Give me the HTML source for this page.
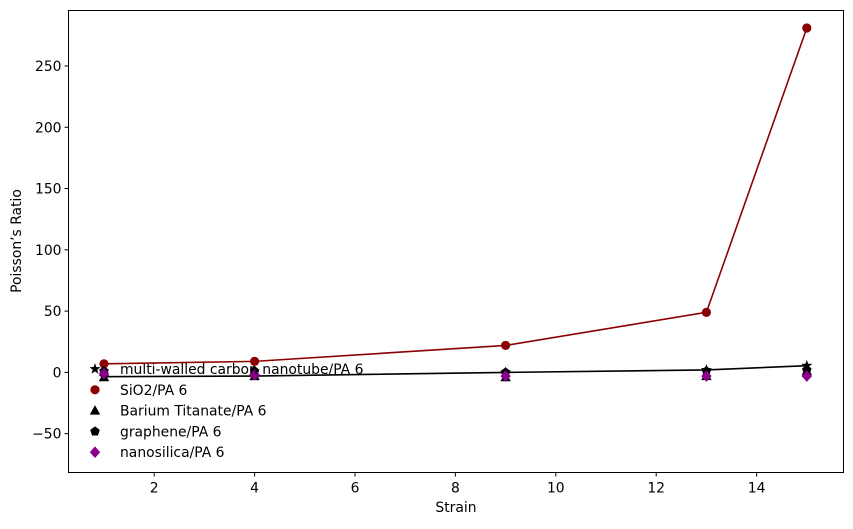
<!DOCTYPE html>
<html><head><meta charset="utf-8"><style>
body{margin:0;background:#fff;width:853px;height:525px;overflow:hidden;font-family:"DejaVu Sans","Liberation Sans",sans-serif}
text{font-family:"DejaVu Sans","Liberation Sans",sans-serif;font-size:13.9px;fill:#000}
</style></head><body>
<svg id="chart" width="853" height="525"></svg>
<script>
const strains=[1,4,9,13,15];
const mwcnt=[-3.5,-3,0,2,5.5];
const sio2=[7,9,22,49,281];
const barium=[-4,-3,-4,-3,1];
const graphene=[1,1,0,1,2];
const nanosilica=[-1,-2,-3,-3,-3];
const xTicks=[2,4,6,8,10,12,14];
const yTicks=[-50,0,50,100,150,200,250];
const legendLabels=["multi-walled carbon nanotube/PA 6","SiO2/PA 6","Barium Titanate/PA 6","graphene/PA 6","nanosilica/PA 6"];

const NS="http://www.w3.org/2000/svg";
const svg=document.getElementById('chart');
const L=68.5,R=843.5,T=10.5,B=472.5;
const xs=v=>104+(v-1)*50.2;
const ys=v=>372.4-v*1.2257;
function mk(tag,attrs,parent){const e=document.createElementNS(NS,tag);for(const k in attrs)e.setAttribute(k,attrs[k]);(parent||svg).appendChild(e);return e;}

const frame=mk('rect',{x:L,y:T,width:R-L,height:B-T,fill:'none',stroke:'#000','stroke-width':1});



xTicks.forEach(t=>{
  const g=mk('g',{});
  
  
  mk('line',{x1:xs(t),x2:xs(t),y1:B,y2:B+4,stroke:'#000'},g);
  const tx=mk('text',{x:xs(t),y:B+20,'text-anchor':'middle'},g);tx.textContent=t;
});
yTicks.forEach(t=>{
  const g=mk('g',{});
  
  
  mk('line',{x1:L-4,x2:L,y1:ys(t),y2:ys(t),stroke:'#000'},g);
  const tx=mk('text',{x:L-7,y:ys(t)+5,'text-anchor':'end'},g);tx.textContent=t===-50?'\u221250':t;
});
const xl=mk('text',{x:456,y:512,'text-anchor':'middle'});xl.textContent='Strain';


const yl=mk('text',{x:21,y:241,'text-anchor':'middle',transform:'rotate(-90 21 241)'});yl.textContent='Poisson\u2019s Ratio';



function line(vals,color,name){
  const p=mk('polyline',{points:strains.map((s,i)=>xs(s)+','+ys(vals[i])).join(' '),fill:'none',stroke:color,'stroke-width':1.6});
  
  
}
function marker(type,x,y,color,parent){
  if(type==='circle')return mk('circle',{cx:x,cy:y,r:4.6,fill:color},parent);
  if(type==='tri')return mk('polygon',{points:`${x},${y-5.5} ${x-5.2},${y+4} ${x+5.2},${y+4}`,fill:color},parent);
  if(type==='diamond')return mk('polygon',{points:`${x},${y-5.8} ${x+5.2},${y} ${x},${y+5.8} ${x-5.2},${y}`,fill:color},parent);
  if(type==='pent'){let pts=[];for(let k=0;k<5;k++){const a=-Math.PI/2+k*2*Math.PI/5;pts.push((x+5*Math.cos(a))+','+(y+5*Math.sin(a)));}return mk('polygon',{points:pts.join(' '),fill:color},parent);}
  if(type==='star'){let pts=[];for(let k=0;k<10;k++){const a=-Math.PI/2+k*Math.PI/5;const r=k%2?2.4:5.8;pts.push((x+r*Math.cos(a))+','+(y+r*Math.sin(a)));}return mk('polygon',{points:pts.join(' '),fill:color},parent);}
}
function series(vals,type,color,name){
  vals.forEach((v,i)=>{const m=marker(type,xs(strains[i]),ys(v),color);
    
    });
}
line(sio2,'#8b0000','sio2-line');
line(mwcnt,'#000','mwcnt-line');
series(sio2,'circle','#8b0000','sio2');
series(barium,'tri','#000','barium-titanate');
series(graphene,'pent','#000','graphene');
series(mwcnt,'star','#000','mwcnt');
series(nanosilica,'diamond','#8b008b','nanosilica');

const types=['star','circle','tri','pent','diamond'];
const cols=['#000','#8b0000','#000','#000','#8b008b'];
legendLabels.forEach((lab,i)=>{
  const g=mk('g',{});
  
  
  const y=369+i*20.8;
  marker(types[i],95,y,cols[i],g);
  const t=mk('text',{x:120,y:y+5},g);t.textContent=lab;
});
</script>
</body></html>
